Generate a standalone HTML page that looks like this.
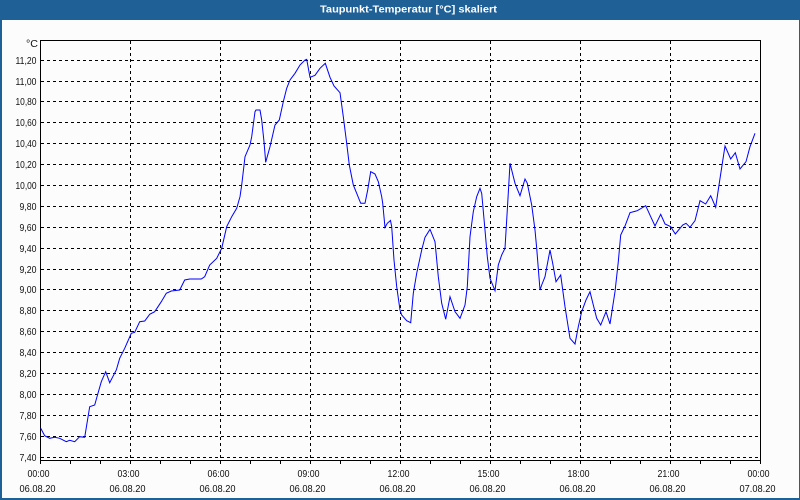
<!DOCTYPE html>
<html><head><meta charset="utf-8">
<style>
html,body{margin:0;padding:0;background:#fbfcfb;}
svg{display:block;}
text{font-family:"Liberation Sans",sans-serif;}
</style></head>
<body>
<svg width="800" height="500" viewBox="0 0 800 500" xmlns="http://www.w3.org/2000/svg">
<rect x="0" y="0" width="800" height="500" fill="#fbfcfb"/>
<!-- title bar -->
<rect x="0" y="0" width="800" height="20" fill="#1f6097"/>
<text x="320" y="12.5" font-size="10" font-weight="bold" fill="#ffffff" textLength="177" lengthAdjust="spacingAndGlyphs">Taupunkt-Temperatur [°C] skaliert</text>
<!-- borders -->
<rect x="0" y="20" width="2" height="480" fill="#1f6097"/>
<rect x="799" y="20" width="1" height="480" fill="#1f6097"/>
<rect x="0" y="498" width="800" height="2" fill="#1f6097"/>

<!-- horizontal grid -->
<g stroke="#000" stroke-width="1" stroke-dasharray="3,3" fill="none">
<line x1="41" y1="60.5" x2="760" y2="60.5"/>
<line x1="41" y1="81.5" x2="760" y2="81.5"/>
<line x1="41" y1="101.5" x2="760" y2="101.5"/>
<line x1="41" y1="122.5" x2="760" y2="122.5"/>
<line x1="41" y1="143.5" x2="760" y2="143.5"/>
<line x1="41" y1="164.5" x2="760" y2="164.5"/>
<line x1="41" y1="185.5" x2="760" y2="185.5"/>
<line x1="41" y1="206.5" x2="760" y2="206.5"/>
<line x1="41" y1="227.5" x2="760" y2="227.5"/>
<line x1="41" y1="248.5" x2="760" y2="248.5"/>
<line x1="41" y1="269.5" x2="760" y2="269.5"/>
<line x1="41" y1="289.5" x2="760" y2="289.5"/>
<line x1="41" y1="310.5" x2="760" y2="310.5"/>
<line x1="41" y1="331.5" x2="760" y2="331.5"/>
<line x1="41" y1="352.5" x2="760" y2="352.5"/>
<line x1="41" y1="373.5" x2="760" y2="373.5"/>
<line x1="41" y1="394.5" x2="760" y2="394.5"/>
<line x1="41" y1="415.5" x2="760" y2="415.5"/>
<line x1="41" y1="436.5" x2="760" y2="436.5"/>
<line x1="41" y1="457.5" x2="760" y2="457.5"/>
</g>
<!-- vertical grid -->
<g stroke="#000" stroke-width="1" stroke-dasharray="3,3" fill="none">
<line x1="130.5" y1="41" x2="130.5" y2="460"/>
<line x1="220.5" y1="41" x2="220.5" y2="460"/>
<line x1="310.5" y1="41" x2="310.5" y2="460"/>
<line x1="400.5" y1="41" x2="400.5" y2="460"/>
<line x1="490.5" y1="41" x2="490.5" y2="460"/>
<line x1="580.5" y1="41" x2="580.5" y2="460"/>
<line x1="670.5" y1="41" x2="670.5" y2="460"/>
</g>
<!-- axes box -->
<rect x="40.5" y="40.5" width="720" height="420" fill="none" stroke="#000" stroke-width="1"/>
<!-- ticks -->
<g stroke="#000" stroke-width="1">
<line x1="40.5" y1="460" x2="40.5" y2="464"/>
<line x1="70.5" y1="460" x2="70.5" y2="464"/>
<line x1="100.5" y1="460" x2="100.5" y2="464"/>
<line x1="130.5" y1="460" x2="130.5" y2="464"/>
<line x1="160.5" y1="460" x2="160.5" y2="464"/>
<line x1="190.5" y1="460" x2="190.5" y2="464"/>
<line x1="220.5" y1="460" x2="220.5" y2="464"/>
<line x1="250.5" y1="460" x2="250.5" y2="464"/>
<line x1="280.5" y1="460" x2="280.5" y2="464"/>
<line x1="310.5" y1="460" x2="310.5" y2="464"/>
<line x1="340.5" y1="460" x2="340.5" y2="464"/>
<line x1="370.5" y1="460" x2="370.5" y2="464"/>
<line x1="400.5" y1="460" x2="400.5" y2="464"/>
<line x1="430.5" y1="460" x2="430.5" y2="464"/>
<line x1="460.5" y1="460" x2="460.5" y2="464"/>
<line x1="490.5" y1="460" x2="490.5" y2="464"/>
<line x1="520.5" y1="460" x2="520.5" y2="464"/>
<line x1="550.5" y1="460" x2="550.5" y2="464"/>
<line x1="580.5" y1="460" x2="580.5" y2="464"/>
<line x1="610.5" y1="460" x2="610.5" y2="464"/>
<line x1="640.5" y1="460" x2="640.5" y2="464"/>
<line x1="670.5" y1="460" x2="670.5" y2="464"/>
<line x1="700.5" y1="460" x2="700.5" y2="464"/>
<line x1="730.5" y1="460" x2="730.5" y2="464"/>
<line x1="760.5" y1="460" x2="760.5" y2="464"/>
</g>

<!-- y labels -->
<g font-size="10" fill="#111" text-anchor="end">
<text x="38" y="47" textLength="12" lengthAdjust="spacingAndGlyphs">°C</text>
<text x="36.5" y="64" textLength="21" lengthAdjust="spacingAndGlyphs">11,20</text>
<text x="36.5" y="85" textLength="21" lengthAdjust="spacingAndGlyphs">11,00</text>
<text x="36.5" y="105" textLength="21" lengthAdjust="spacingAndGlyphs">10,80</text>
<text x="36.5" y="126" textLength="21" lengthAdjust="spacingAndGlyphs">10,60</text>
<text x="36.5" y="147" textLength="21" lengthAdjust="spacingAndGlyphs">10,40</text>
<text x="36.5" y="168" textLength="21" lengthAdjust="spacingAndGlyphs">10,20</text>
<text x="36.5" y="189" textLength="21" lengthAdjust="spacingAndGlyphs">10,00</text>
<text x="36.5" y="210" textLength="17" lengthAdjust="spacingAndGlyphs">9,80</text>
<text x="36.5" y="231" textLength="17" lengthAdjust="spacingAndGlyphs">9,60</text>
<text x="36.5" y="252" textLength="17" lengthAdjust="spacingAndGlyphs">9,40</text>
<text x="36.5" y="273" textLength="17" lengthAdjust="spacingAndGlyphs">9,20</text>
<text x="36.5" y="293" textLength="17" lengthAdjust="spacingAndGlyphs">9,00</text>
<text x="36.5" y="314" textLength="17" lengthAdjust="spacingAndGlyphs">8,80</text>
<text x="36.5" y="335" textLength="17" lengthAdjust="spacingAndGlyphs">8,60</text>
<text x="36.5" y="356" textLength="17" lengthAdjust="spacingAndGlyphs">8,40</text>
<text x="36.5" y="377" textLength="17" lengthAdjust="spacingAndGlyphs">8,20</text>
<text x="36.5" y="398" textLength="17" lengthAdjust="spacingAndGlyphs">8,00</text>
<text x="36.5" y="419" textLength="17" lengthAdjust="spacingAndGlyphs">7,80</text>
<text x="36.5" y="440" textLength="17" lengthAdjust="spacingAndGlyphs">7,60</text>
<text x="36.5" y="461" textLength="17" lengthAdjust="spacingAndGlyphs">7,40</text>
</g>

<!-- x labels -->
<g font-size="10" fill="#111" text-anchor="middle">
<text x="38.5" y="477" textLength="22" lengthAdjust="spacingAndGlyphs">00:00</text>
<text x="128.5" y="477" textLength="22" lengthAdjust="spacingAndGlyphs">03:00</text>
<text x="218.5" y="477" textLength="22" lengthAdjust="spacingAndGlyphs">06:00</text>
<text x="308.5" y="477" textLength="22" lengthAdjust="spacingAndGlyphs">09:00</text>
<text x="398.5" y="477" textLength="22" lengthAdjust="spacingAndGlyphs">12:00</text>
<text x="488.5" y="477" textLength="22" lengthAdjust="spacingAndGlyphs">15:00</text>
<text x="578.5" y="477" textLength="22" lengthAdjust="spacingAndGlyphs">18:00</text>
<text x="668.5" y="477" textLength="22" lengthAdjust="spacingAndGlyphs">21:00</text>
<text x="758.5" y="477" textLength="22" lengthAdjust="spacingAndGlyphs">00:00</text>
<text x="37.5" y="492" textLength="36" lengthAdjust="spacingAndGlyphs">06.08.20</text>
<text x="127.5" y="492" textLength="36" lengthAdjust="spacingAndGlyphs">06.08.20</text>
<text x="217.5" y="492" textLength="36" lengthAdjust="spacingAndGlyphs">06.08.20</text>
<text x="307.5" y="492" textLength="36" lengthAdjust="spacingAndGlyphs">06.08.20</text>
<text x="397.5" y="492" textLength="36" lengthAdjust="spacingAndGlyphs">06.08.20</text>
<text x="487.5" y="492" textLength="36" lengthAdjust="spacingAndGlyphs">06.08.20</text>
<text x="577.5" y="492" textLength="36" lengthAdjust="spacingAndGlyphs">06.08.20</text>
<text x="667.5" y="492" textLength="36" lengthAdjust="spacingAndGlyphs">06.08.20</text>
<text x="757.5" y="492" textLength="36" lengthAdjust="spacingAndGlyphs">07.08.20</text>
</g>

<!-- data -->
<polyline fill="none" stroke="#0000ff" stroke-width="1" stroke-linejoin="miter" points="
40.7,428.3 44.7,435.7 49.7,438.3 54.7,437.3 59.7,438.3 66.3,441.7 69.7,440.3 74.7,441.7 79.7,436.7 84.7,437.3
89.7,406.7 94.7,405 98,393.3 101.3,381.7 105.7,371.7 109.7,382.7 116.3,370 119.7,358.3 124.7,348.3 131.3,333.3
134.7,332.3 139.7,321.7 144.7,321 149.7,314.3 154.7,311.7 161.3,301.7 166.3,293.3 171.3,291 179.7,290 184.7,280
189.7,279 201.3,279 204.7,276.7 209.7,265 216.7,258.3 221.7,248.3 226.7,226.7 231.7,216.7 236.7,208.3 240,196.7
241.7,185 245,156.7 250,145 251.7,136.7 255,111.7 256,110 260,110 261.7,120 264,141.7 265.7,162.3
270,146.7 275,125 279.3,120 283.3,101.7 286.7,88.3 290,80 295,73.3 300,65 305,60 306.7,59.3
310,77.3 315,75.3 320,68.3 325.3,63.3 330,77.3 334,86 340,92.7 343.3,116.7 346.7,143.3 349.3,165
353.3,185 356.7,193.3 360.7,203.3 365,203.3 367.7,190 370.7,171.7 375,174 378.3,181.7 381.7,196.7 382.7,203.3
385,227.5 387.3,223.3 390.5,220.5 391.7,226.7 394,260 396.7,286.7 400,310 401.7,315 406.7,320.7 410.7,322.7
413.3,293.3 416.7,273.3 421.7,250 425,237.3 430,229.3 435,241.7 438.3,276.7 441.7,303.3 445.7,319.3 450,296.7
455,311.7 460,318.3 465,305 467.3,286.7 470,236.7 473.3,211.7 476.7,196.7 480,188.3 481.7,193.3 485,230
487.3,256.7 490,278.3 495,290.7 498.3,265 501.7,255 505,248.3 507.7,203.3 510,163.3 515,183.3 520,195.7
525,179 527.3,183.3 531.7,205 535,230 536.7,248.3 540,290 541.7,285 545,276.7 550,250 552.7,263.3
556,281.7 560.7,275 565,306.7 570,338.3 575,344 578.3,326.7 581.7,311.7 586,300 590,291.7 593.3,305
596.7,318.3 600.7,325 606,311.7 610,324 615,291.7 618.3,261.7 620.7,235 625,226 630,212.7 637.3,210.7
645.7,205.7 650.7,216.7 655,226 660.7,214.3 665,224 670.7,226.7 675.3,234 682.7,225 686,223.3 690,227.3
695,220.7 700,200.7 705.7,204 710.7,195.7 715.7,207.3 719,185 725,146 730.7,159 735.3,152.7 740,169
746,161.7 750,146.7 755,133.3"/>
</svg>
</body></html>
